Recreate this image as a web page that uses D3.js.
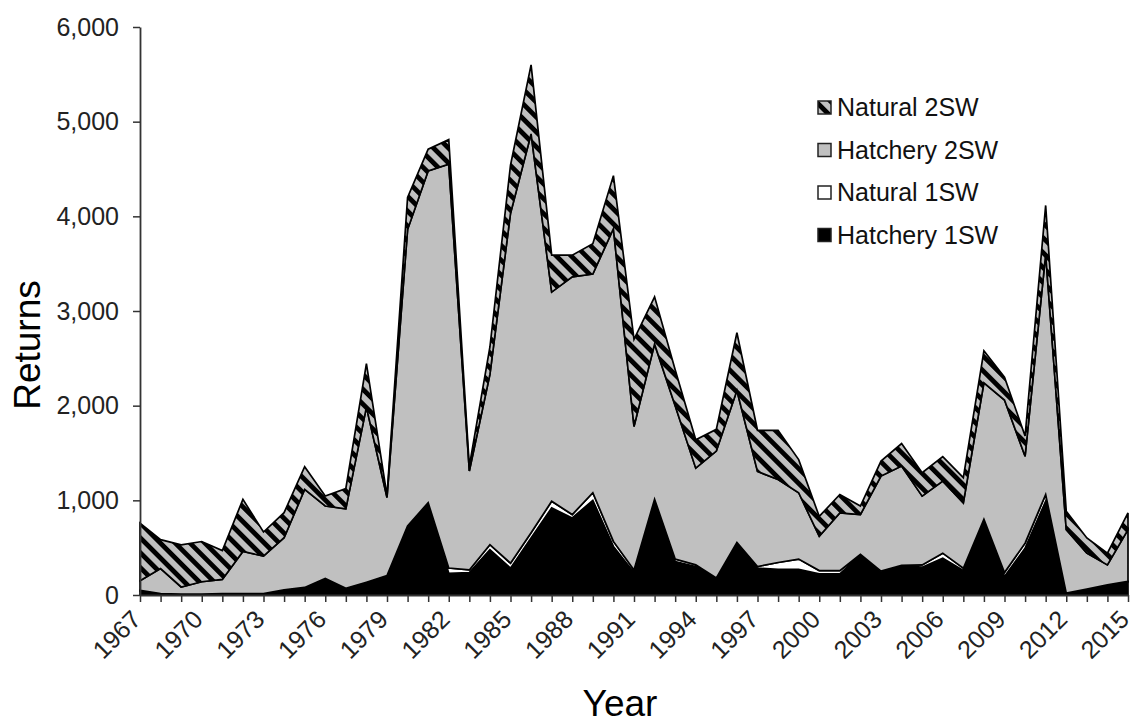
<!DOCTYPE html>
<meta charset="utf-8">
<script src="https://d3js.org/d3.v7.min.js"></script>
<style>
  body { margin: 0; background: #fff; }
  text { font-family: Arial, "Liberation Sans", sans-serif; }
</style>
<svg id="chart" width="1133" height="724"></svg>
<script>
// ---- data ----
const years = d3.range(1967, 2016);
const hatchery1SW = [40, 10, 5, 5, 10, 10, 10, 50, 75, 170, 65, 130, 200, 725, 970, 230, 237, 478, 283, 602,
  920, 814, 1000, 513, 237, 1008, 354, 300, 177, 548, 283, 272, 272, 223, 223, 425, 248, 308, 294, 389,
  258, 796, 195, 495, 991, 18, 60, 106, 141];
const natural1SW = [10, 5, 5, 5, 5, 5, 5, 5, 5, 5, 5, 5, 5, 5, 5, 55, 28, 53, 53, 55,
  70, 36, 80, 53, 28, 4, 25, 20, 3, 7, 18, 71, 107, 35, 35, 5, 4, 4, 24, 53,
  25, 4, 42, 53, 71, 2, 2, 2, 2];
const hatchery2SW = [100, 265, 75, 130, 150, 445, 395, 550, 1035, 765, 840, 1850, 825, 3130, 3505, 4265, 1045, 1799, 3694, 4213,
  2210, 2510, 2310, 3304, 1515, 1638, 1621, 1020, 1340, 1605, 1004, 877, 701, 362, 609, 420, 1004, 1050, 726, 761,
  690, 1440, 1823, 917, 2538, 670, 380, 210, 547];
const natural2SW = [610, 305, 445, 425, 305, 550, 255, 265, 240, 105, 215, 460, 20, 340, 230, 260, 50, 290, 510, 730,
  390, 230, 320, 560, 920, 500, 380, 300, 230, 610, 435, 520, 350, 210, 195, 90, 159, 238, 248, 259,
  267, 340, 240, 215, 515, 195, 160, 124, 177];

const seriesKeys = ["Hatchery 1SW", "Natural 1SW", "Hatchery 2SW", "Natural 2SW"];
const legendOrder = ["Natural 2SW", "Hatchery 2SW", "Natural 1SW", "Hatchery 1SW"];
const yTicks = [0, 1000, 2000, 3000, 4000, 5000, 6000];

// ---- layout ----
const plot = {left: 140, right: 1128, top: 27, bottom: 595};
const svg = d3.select("#chart");

const fills = {
  "Hatchery 1SW": "#000",
  "Natural 1SW": "#fff",
  "Hatchery 2SW": "#c0c0c0",
  "Natural 2SW": "url(#hatch)"
};

// hatch pattern for Natural 2SW: grey with black downward diagonals
const pat = svg.append("defs").append("pattern")
  .attr("id", "hatch")
  .attr("patternUnits", "userSpaceOnUse")
  .attr("width", 10.5).attr("height", 10.5)
  .attr("patternTransform", "rotate(-45)");
pat.append("rect").attr("width", 10.5).attr("height", 10.5).attr("fill", "#c0c0c0");
pat.append("rect").attr("width", 4.8).attr("height", 10.5).attr("fill", "#000");

const x = d3.scaleLinear().domain([1967, 2015]).range([plot.left, plot.right]);
const y = d3.scaleLinear().domain([0, 6000]).range([plot.bottom, plot.top]);

const table = years.map((yr, i) => ({
  year: yr,
  "Hatchery 1SW": hatchery1SW[i],
  "Natural 1SW": natural1SW[i],
  "Hatchery 2SW": hatchery2SW[i],
  "Natural 2SW": natural2SW[i]
}));

const stacked = d3.stack().keys(seriesKeys)(table);

const area = d3.area()
  .x(d => x(d.data.year))
  .y0(d => y(d[0]))
  .y1(d => y(d[1]));

svg.append("g")
  .selectAll("path")
  .data(stacked)
  .join("path")
    .attr("d", area)
    .attr("fill", d => fills[d.key])
    .attr("stroke", "#000")
    .attr("stroke-width", 1.7)
    .attr("stroke-linejoin", "miter");

// ---- axes ----
const yAxis = svg.append("g")
  .attr("transform", `translate(${plot.left},0)`)
  .call(d3.axisLeft(y).tickValues(yTicks).tickSize(7).tickSizeOuter(0).tickFormat(d3.format(",")));

const xAxis = svg.append("g")
  .attr("transform", `translate(0,${plot.bottom})`)
  .call(d3.axisBottom(x).tickValues(years).tickSize(7).tickSizeOuter(0)
    .tickFormat(d => (d - 1967) % 3 === 0 ? d : ""));

[yAxis, xAxis].forEach(g => {
  g.select(".domain").attr("stroke", "#333").attr("stroke-width", 1.8);
  g.selectAll(".tick line").attr("stroke", "#333").attr("stroke-width", 1.5);
  g.selectAll("text").attr("fill", "#222").style("font-size", "25px");
});
yAxis.selectAll("text").attr("x", -21);

xAxis.selectAll("text")
  .attr("text-anchor", "end")
  .attr("x", 0).attr("y", 0).attr("dy", 0)
  .attr("transform", "translate(2,26) rotate(-45)");

// axis titles
svg.append("text")
  .attr("transform", "translate(40,345) rotate(-90)")
  .attr("text-anchor", "middle")
  .style("font-size", "37px")
  .text("Returns");

svg.append("text")
  .attr("x", 620)
  .attr("y", 716)
  .attr("text-anchor", "middle")
  .style("font-size", "37px")
  .text("Year");

// ---- legend ----
const legend = svg.append("g").attr("transform", "translate(818,107)");
const row = legend.selectAll("g")
  .data(legendOrder)
  .join("g")
    .attr("transform", (d, i) => `translate(0,${i * 42.5})`);
row.append("rect")
  .attr("x", 0).attr("y", -6)
  .attr("width", 13).attr("height", 13)
  .attr("fill", d => fills[d])
  .attr("stroke", "#222").attr("stroke-width", 1.5);
row.append("text")
  .attr("x", 19).attr("y", 9)
  .style("font-size", "25px")
  .attr("fill", "#111")
  .text(d => d);
</script>
